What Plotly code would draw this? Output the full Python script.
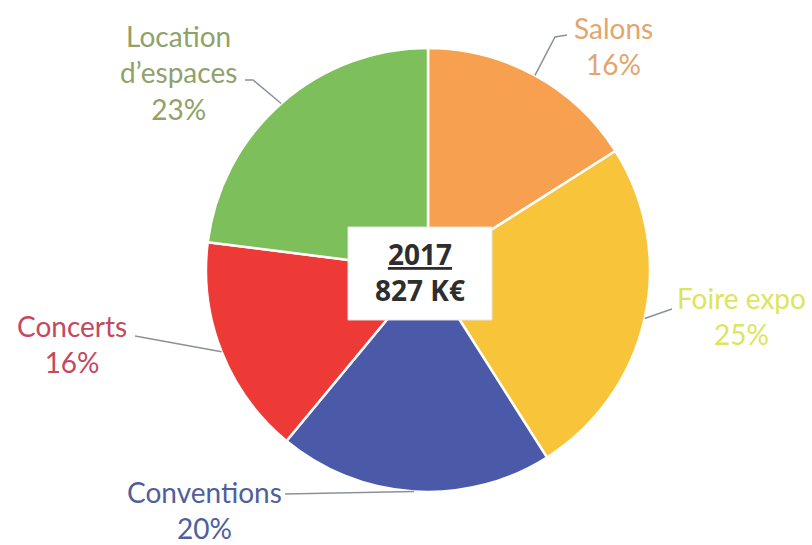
import math
import plotly.graph_objects as go

# Revenue split for 2017 (share of total, %)
categories = ["Salons", "Foire expo", "Conventions", "Concerts", "Location d’espaces"]
label_texts = ["Salons", "Foire expo", "Conventions", "Concerts", "Location<br>d’espaces"]
shares = [16, 25, 20, 16, 23]
total_label = "827 K€"
year_label = "2017"

slice_colors = ["#F7A04F", "#F8C53A", "#4B5AA8", "#EE3A36", "#7DBF5A"]
text_colors = ["#E2A56E", "#DCE55C", "#505F9C", "#C4485E", "#8FA26A"]

W, H = 812, 545
CX, CY, R = 428, 270, 222  # pie centre and radius in pixels


def px(x):
    return x / W


def py(y):
    return 1 - y / H


fig = go.Figure(
    go.Pie(
        labels=categories,
        values=shares,
        sort=False,
        direction="clockwise",
        rotation=0,
        marker=dict(colors=slice_colors, line=dict(color="white", width=2.5)),
        textinfo="none",
        hoverinfo="label+percent",
        showlegend=False,
        domain=dict(x=[px(CX - R), px(CX + R)], y=[py(CY + R), py(CY - R)]),
    )
)

# label placement (centre of text block) and leader-line elbow / end, in pixels
label_pos = [(613, 46), (741, 316), (204, 510), (72, 344), (178, 72)]
leader_pts = [
    [(555, 37), (567, 35)],
    [(672, 309)],
    [(285, 494)],
    [(135, 336)],
    [(253, 80), (245, 80)],
]

total = sum(shares)
shapes = []
annotations = []
cum = 0
for i, v in enumerate(shares):
    mid = (cum + v / 2) / total * 2 * math.pi
    cum += v
    sx = CX + R * math.sin(mid)
    sy = CY - R * math.cos(mid)
    pts = [(sx, sy)] + leader_pts[i]
    path = "M " + " L ".join(f"{px(x):.5f},{py(y):.5f}" for x, y in pts)
    shapes.append(
        dict(type="path", path=path, xref="paper", yref="paper",
             line=dict(color="#8C9199", width=1.5))
    )
    lx, ly = label_pos[i]
    pct = round(v / total * 100)
    annotations.append(
        dict(
            x=px(lx), y=py(ly), xref="paper", yref="paper",
            text=f"{label_texts[i]}<br>{pct}%",
            showarrow=False, xanchor="center", yanchor="middle", align="center",
            font=dict(family="Lato", size=28, color=text_colors[i]),
        )
    )

# centre box with the year and total
shapes.append(
    dict(type="rect", xref="paper", yref="paper",
         x0=px(348), x1=px(492), y0=py(320), y1=py(227),
         fillcolor="white", line=dict(color="#E4E4E4", width=1))
)
annotations.append(
    dict(
        x=px(420), y=py(272), xref="paper", yref="paper",
        text=f"<u>{year_label}</u><br>{total_label}",
        showarrow=False, xanchor="center", yanchor="middle", align="center",
        font=dict(family="Open Sans", size=28, color="#2E2E2E", weight=700),
    )
)

fig.update_layout(
    width=W, height=H,
    margin=dict(l=0, r=0, t=0, b=0),
    paper_bgcolor="white", plot_bgcolor="white",
    shapes=shapes, annotations=annotations,
)

fig.write_html("out.html")
